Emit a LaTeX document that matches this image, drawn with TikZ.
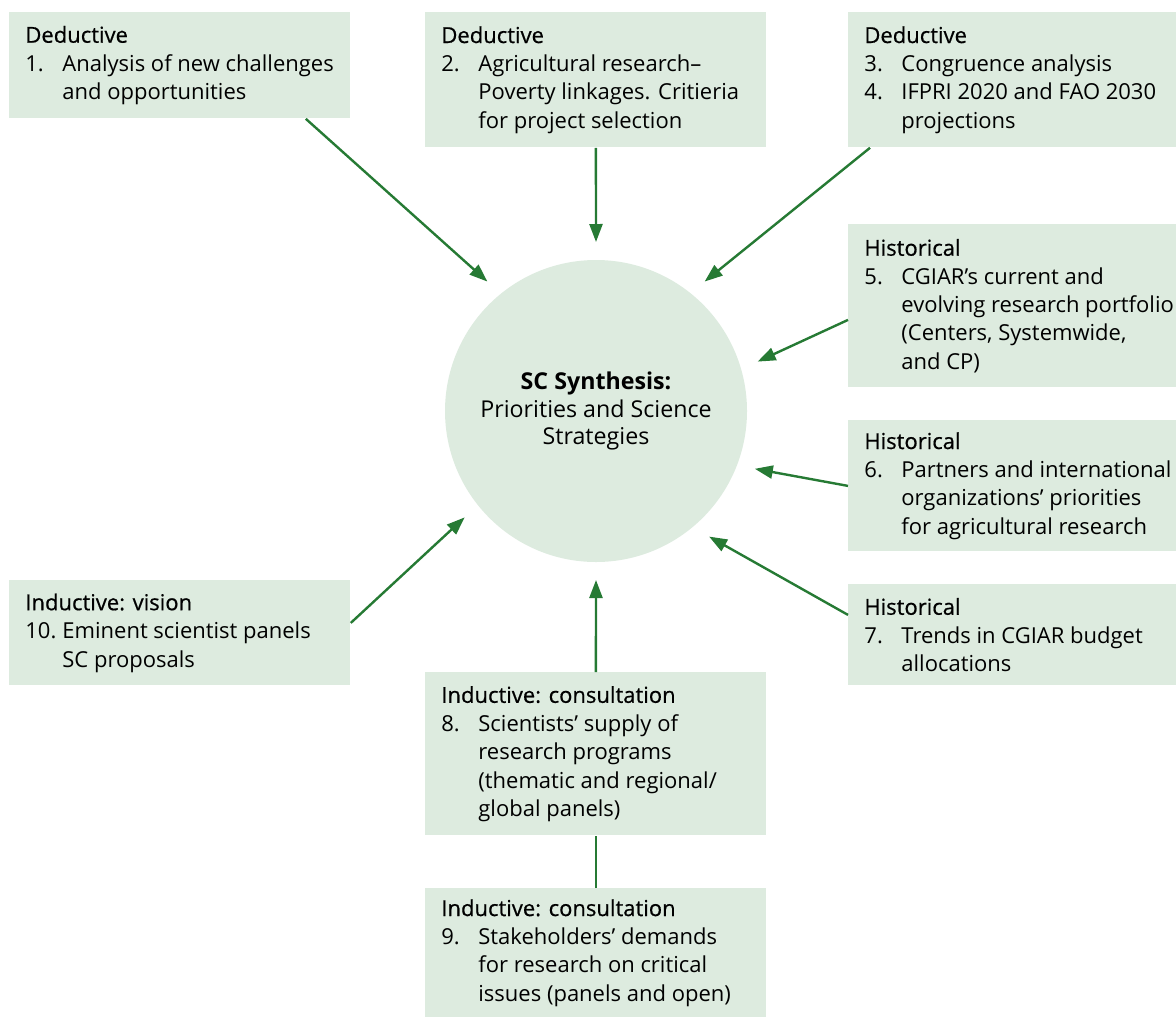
\documentclass[tikz,border=0pt]{standalone}
\usepackage{fontspec}
\setmainfont{Open Sans}
\newfontface\headfont{Open Sans}[FakeBold=0.6]
\usetikzlibrary{arrows.meta}

\definecolor{boxgreen}{RGB}{221,235,223}
\definecolor{arrowgreen}{RGB}{38,122,52}

\newcommand{\itm}[1]{\makebox[18.5pt][l]{#1}}
\newcommand{\cnt}{\hspace*{18.5pt}}

\begin{document}
\begin{tikzpicture}[x=0.5pt, y=-0.5pt,
    box/.style={fill=boxgreen, inner sep=0pt, anchor=north west},
    boxtext/.style={align=left, inner sep=0pt, anchor=west, xshift=8pt,
        font=\fontsize{11pt}{14.2pt}\selectfont},
    flow/.style={draw=arrowgreen, line width=1.2pt, -{Triangle[length=9pt, width=6.5pt]}}]
    \useasboundingbox (0,0) rectangle (1176,1017);

    % synthesis circle
    \node [circle, fill=boxgreen, minimum size=151pt, inner sep=0pt, outer sep=9pt,
        align=center, font=\fontsize{11.6pt}{13.9pt}\selectfont] (synth) at (596,411)
        {\textbf{SC Synthesis:}\\Priorities and Science\\Strategies};

    % deductive
    \node [box, minimum width=170.5pt, minimum height=53pt] (ded1) at (9,12) {};
    \node [boxtext] at (ded1.west) {{\headfont Deductive}\\
        \itm{1.}Analysis of new challenges\\\cnt and opportunities};
    \node [box, minimum width=170.5pt, minimum height=67.5pt] (ded2) at (425,12) {};
    \node [boxtext] at (ded2.west) {{\headfont Deductive}\\
        \itm{2.}Agricultural research--\\\cnt Poverty linkages. Critieria\\\cnt for project selection};
    \node [box, minimum width=164pt, minimum height=67.5pt] (ded3) at (848,12) {};
    \node [boxtext] at (ded3.west) {{\headfont Deductive}\\
        \itm{3.}Congruence analysis\\\itm{4.}IFPRI 2020 and FAO 2030\\\cnt projections};

    % historical
    \node [box, minimum width=164pt, minimum height=81.5pt] (hist5) at (848,224) {};
    \node [boxtext] at (hist5.west) {{\headfont Historical}\\
        \itm{5.}CGIAR’s current and\\\cnt evolving research portfolio\\\cnt (Centers, Systemwide,\\\cnt and CP)};
    \node [box, minimum width=164pt, minimum height=65.5pt] (hist6) at (848,420) {};
    \node [boxtext] at (hist6.west) {{\headfont Historical}\\
        \itm{6.}Partners and international\\\cnt organizations’ priorities\\\cnt for agricultural research};
    \node [box, minimum width=164pt, minimum height=50.5pt] (hist7) at (848,584) {};
    \node [boxtext] at (hist7.west) {{\headfont Historical}\\
        \itm{7.}Trends in CGIAR budget\\\cnt allocations};

    % inductive
    \node [box, minimum width=170.5pt, minimum height=52.5pt] (ind10) at (9,580) {};
    \node [boxtext] at (ind10.west) {{\headfont Inductive: vision}\\
        \itm{10.}Eminent scientist panels\\\cnt SC proposals};
    \node [box, minimum width=170.5pt, minimum height=81.5pt] (ind8) at (425,672) {};
    \node [boxtext] at (ind8.west) {{\headfont Inductive: consultation}\\
        \itm{8.}Scientists’ supply of\\\cnt research programs\\\cnt (thematic and regional/\\\cnt global panels)};
    \node [box, minimum width=170.5pt, minimum height=64.5pt] (ind9) at (425,888) {};
    \node [boxtext] at (ind9.west) {{\headfont Inductive: consultation}\\
        \itm{9.}Stakeholders’ demands\\\cnt for research on critical\\\cnt issues (panels and open)};

    % arrows into the synthesis
    \draw [flow] ([xshift=-22.5pt]ded1.south east) -- (synth.130);
    \draw [flow] (ded2.south) -- (synth.90);
    \draw [flow] ([xshift=11pt]ded3.south west) -- (synth.50);
    \draw [flow] ([yshift=-7pt]hist5.west) -- (synth.17);
    \draw [flow] (hist6.west) -- (synth.340);
    \draw [flow] ([yshift=10pt]hist7.west) -- (synth.312);
    \draw [flow] ([yshift=5pt]ind10.east) -- (synth.219);
    \draw [flow] (ind8.north) -- (synth.270);
    \draw [draw=arrowgreen, line width=1.2pt] (ind9.north) -- (ind8.south);
\end{tikzpicture}
\end{document}
